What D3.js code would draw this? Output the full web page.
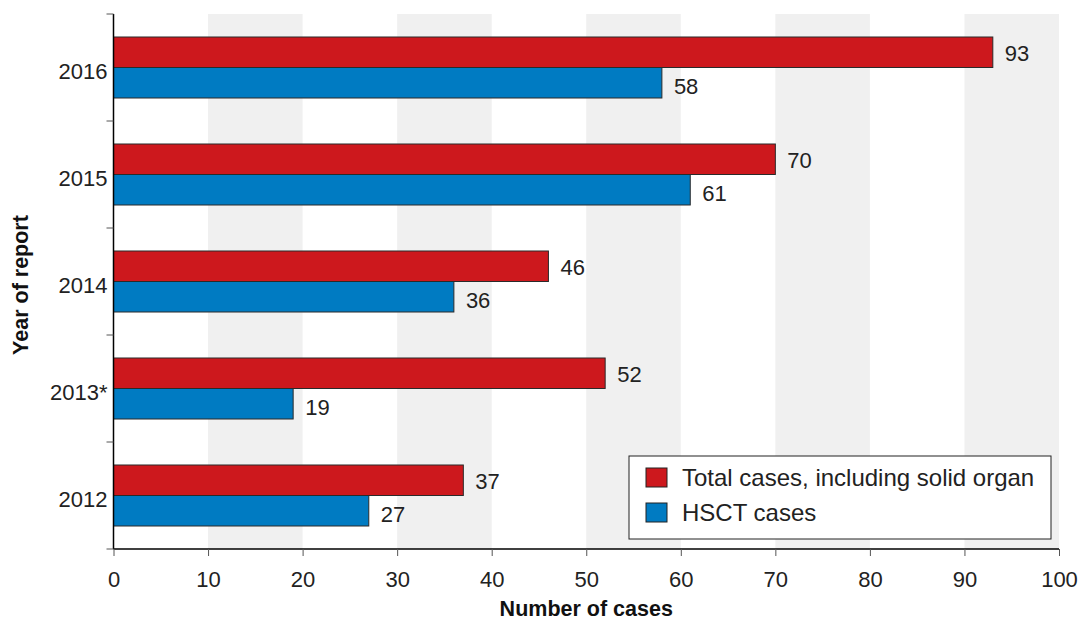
<!DOCTYPE html>
<html>
<head>
<meta charset="utf-8">
<script src="https://cdn.jsdelivr.net/npm/d3@7"></script>
<style>
  body { margin: 0; background: #fff; }
  text { font-family: "Liberation Sans", Arial, sans-serif; }
</style>
</head>
<body>
<div id="chart"></div>
<script>
const years = ['2016', '2015', '2014', '2013*', '2012'];
const totalCases = [93, 70, 46, 52, 37];
const hsctCases = [58, 61, 36, 19, 27];
const seriesNames = ['Total cases, including solid organ', 'HSCT cases'];
const xTicks = [0, 10, 20, 30, 40, 50, 60, 70, 80, 90, 100];

const size = { width: 1086, height: 622 };
const margin = { top: 14, right: 27, bottom: 73, left: 113.5 };

const colors = ['#cd181d', '#007bc2'];
const ink = '#222';

const svg = d3.select('#chart')
  .append('svg')
  .attr('width', size.width)
  .attr('height', size.height);

const x = d3.scaleLinear()
  .domain([0, 100])
  .range([margin.left, size.width - margin.right]);

const y = d3.scaleBand()
  .domain(years)
  .range([margin.top, size.height - margin.bottom]);

// two bars per year, centred in the band
const sub = d3.scaleBand()
  .domain([0, 1])
  .range([0, y.bandwidth()])
  .paddingOuter(0.754);

const plotBottom = size.height - margin.bottom;

// grey stripes
svg.append('g')
  .selectAll('rect')
  .data(xTicks.filter((d, i) => i % 2 === 1 && d < 100))
  .join('rect')
  .attr('x', (d) => x(d))
  .attr('width', (d) => x(d + 10) - x(d))
  .attr('y', margin.top)
  .attr('height', plotBottom - margin.top)
  .attr('fill', '#f0f0f0');

// bars
const rows = years.map((yr, i) => ({ yr, vals: [totalCases[i], hsctCases[i]] }));

const groups = svg.append('g')
  .selectAll('g')
  .data(rows)
  .join('g')
  .attr('transform', (d) => `translate(0, ${y(d.yr)})`);

groups.selectAll('rect')
  .data((d) => d.vals.map((v, k) => ({ v, k })))
  .join('rect')
  .attr('x', x(0))
  .attr('y', (d) => sub(d.k))
  .attr('width', (d) => x(d.v) - x(0))
  .attr('height', sub.bandwidth())
  .attr('fill', (d) => colors[d.k])
  .attr('stroke', '#2a2a2a')
  .attr('stroke-width', 1);

// labels sit a touch low, blue ones a bit more
const labelShift = [8.7, 11.2];
groups.selectAll('text')
  .data((d) => d.vals.map((v, k) => ({ v, k })))
  .join('text')
  .attr('x', (d) => x(d.v) + 12)
  .attr('y', (d) => sub(d.k) + sub.bandwidth() / 2 + labelShift[d.k])
  .attr('font-size', '22px')
  .attr('fill', ink)
  .text((d) => d.v);

// x axis
const xAxis = svg.append('g')
  .attr('transform', `translate(0, ${plotBottom})`)
  .call(d3.axisBottom(x).tickValues(xTicks).tickSize(7));
xAxis.select('.domain').attr('stroke', '#000').attr('stroke-width', 1.5)
  .attr('d', `M${x(0)},0H${x(100)}`);
xAxis.selectAll('.tick line').attr('stroke', '#555');
xAxis.selectAll('.tick text')
  .attr('dy', null)
  .attr('y', 37.5)
  .attr('font-size', '22px')
  .attr('fill', ink)
  .style('font-family', '"Liberation Sans", Arial, sans-serif');

// y axis: ticks at band boundaries
const yAxis = svg.append('g');
yAxis.append('line')
  .attr('x1', x(0)).attr('x2', x(0))
  .attr('y1', margin.top).attr('y2', plotBottom)
  .attr('stroke', '#000').attr('stroke-width', 1.5);
yAxis.selectAll('line.tk')
  .data(years.map((yr) => y(yr)).concat([plotBottom]))
  .join('line')
  .attr('class', 'tk')
  .attr('x1', x(0) - 7).attr('x2', x(0))
  .attr('y1', (d) => d).attr('y2', (d) => d)
  .attr('stroke', '#555');
yAxis.selectAll('text')
  .data(years)
  .join('text')
  .attr('x', x(0) - 6)
  .attr('y', (d) => y(d) + y.bandwidth() / 2 + 11.5)
  .attr('text-anchor', 'end')
  .attr('font-size', '22px')
  .attr('fill', ink)
  .text((d) => d);

// axis titles
svg.append('text')
  .attr('x', (x(0) + x(100)) / 2)
  .attr('y', 616)
  .attr('text-anchor', 'middle')
  .attr('font-size', '21.5px')
  .attr('font-weight', 'bold')
  .attr('fill', '#111')
  .text('Number of cases');

svg.append('text')
  .attr('transform', `translate(28, 285) rotate(-90)`)
  .attr('text-anchor', 'middle')
  .attr('font-size', '21.5px')
  .attr('font-weight', 'bold')
  .attr('fill', '#111')
  .text('Year of report');

// legend
const legend = svg.append('g').attr('transform', 'translate(629, 456)');
legend.append('rect')
  .attr('width', 422)
  .attr('height', 83)
  .attr('fill', '#fff')
  .attr('stroke', '#222')
  .attr('stroke-width', 1);
const items = legend.selectAll('g')
  .data(seriesNames)
  .join('g')
  .attr('transform', (d, i) => `translate(17, ${12 + i * 35})`);
items.append('rect')
  .attr('width', 21)
  .attr('height', 19)
  .attr('fill', (d, i) => colors[i])
  .attr('stroke', '#222');
items.append('text')
  .attr('x', 36)
  .attr('y', 18)
  .attr('font-size', '24px')
  .attr('fill', ink)
  .text((d) => d);
</script>
</body>
</html>
